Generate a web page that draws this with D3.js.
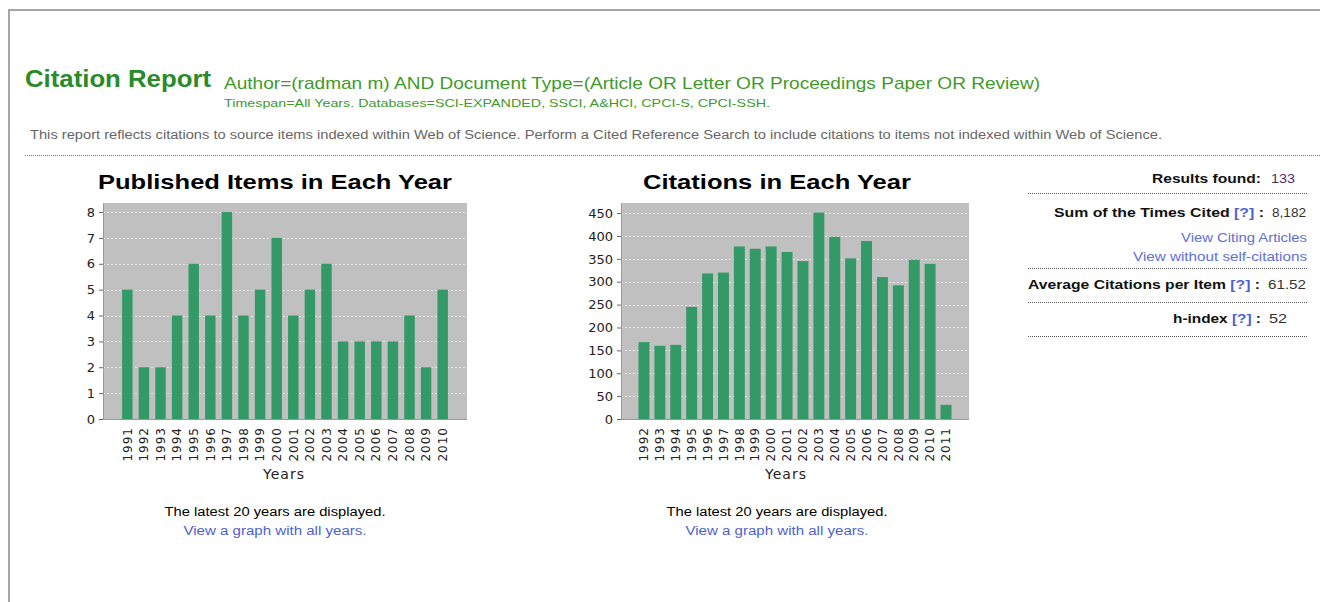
<!DOCTYPE html>
<html>
<head>
<meta charset="utf-8">
<script src="https://cdn.jsdelivr.net/npm/d3@7"></script>
<style>
  body { margin: 0; background: #fff; }
  svg { display: block; font-family: "Liberation Sans", Arial, sans-serif; }
  .tick text { font-family: "DejaVu Sans", sans-serif; }
</style>
</head>
<body>
<svg id="page" width="1320" height="602"></svg>
<script>
// data
const pubYears = ["1991","1992","1993","1994","1995","1996","1997","1998","1999","2000",
                  "2001","2002","2003","2004","2005","2006","2007","2008","2009","2010"];
const pubCounts = [5,2,2,4,6,4,8,4,5,7,4,5,6,3,3,3,3,4,2,5];
const pubTicks = [0,1,2,3,4,5,6,7,8];

const citeYears = ["1992","1993","1994","1995","1996","1997","1998","1999","2000","2001",
                   "2002","2003","2004","2005","2006","2007","2008","2009","2010","2011"];
const citeCounts = [168,160,162,245,318,320,377,372,377,365,345,451,398,351,389,310,292,348,339,31];
const citeTicks = [0,50,100,150,200,250,300,350,400,450];

const statLabels = ["Results found:", "Sum of the Times Cited", "Average Citations per Item", "h-index"];
const statValues = ["133", "8,182", "61.52", "52"];

const svg = d3.select("#page");

// the source text is drawn a bit wider than Liberation Sans, so stretch to width
function fit(sel, w) {
  return sel.attr("textLength", w).attr("lengthAdjust", "spacingAndGlyphs");
}

// page frame
svg.append("path")
  .attr("d", "M9,602 V10 H1320")
  .attr("fill", "none")
  .attr("stroke", "#a6a6a6")
  .attr("stroke-width", 2);

// header
fit(svg.append("text")
  .attr("x", 25).attr("y", 87)
  .attr("font-size", "23px").attr("font-weight", "bold")
  .attr("fill", "#2a8a2a")
  .text("Citation Report"), 186);

fit(svg.append("text")
  .attr("x", 224).attr("y", 89)
  .attr("font-size", "17px")
  .attr("fill", "#3f9a2a")
  .text("Author=(radman m) AND Document Type=(Article OR Letter OR Proceedings Paper OR Review)"), 816);

fit(svg.append("text")
  .attr("x", 224).attr("y", 107)
  .attr("font-size", "11.5px")
  .attr("fill", "#3f9a2a")
  .text("Timespan=All Years. Databases=SCI-EXPANDED, SSCI, A&HCI, CPCI-S, CPCI-SSH."), 546);

fit(svg.append("text")
  .attr("x", 30).attr("y", 139)
  .attr("font-size", "12px")
  .attr("fill", "#666")
  .text("This report reflects citations to source items indexed within Web of Science. Perform a Cited Reference Search to include citations to items not indexed within Web of Science."), 1132);

svg.append("line")
  .attr("x1", 25).attr("x2", 1320).attr("y1", 155.5).attr("y2", 155.5)
  .attr("stroke", "#777").attr("stroke-dasharray", "1,1");

// bar chart builder
function drawChart(cfg) {
  const x = d3.scaleBand()
    .domain(cfg.years)
    .range([cfg.left, cfg.right])
    .paddingInner(cfg.pi)
    .paddingOuter(cfg.po);

  const y = d3.scaleLinear()
    .domain([0, cfg.max])
    .range([419, 203]);

  const g = svg.append("g");

  fit(g.append("text")
    .attr("x", cfg.titleX).attr("y", 189)
    .attr("text-anchor", "middle")
    .attr("font-size", "21px").attr("font-weight", "bold")
    .attr("fill", "#000")
    .text(cfg.title), cfg.titleW);

  g.append("rect")
    .attr("x", cfg.left).attr("y", 203)
    .attr("width", cfg.right - cfg.left).attr("height", 216)
    .attr("fill", "#c0c0c0");

  // dashed white grid
  g.selectAll(".grid")
    .data(cfg.ticks.filter(t => t > 0))
    .join("line")
      .attr("x1", cfg.left).attr("x2", cfg.right)
      .attr("y1", d => Math.round(y(d)) + 0.5).attr("y2", d => Math.round(y(d)) + 0.5)
      .attr("stroke", "#e4e4e4").attr("stroke-dasharray", "2,2");

  g.selectAll(".bar")
    .data(cfg.counts)
    .join("rect")
      .attr("class", "bar")
      .attr("x", (d, i) => x(cfg.years[i]))
      .attr("y", d => y(d))
      .attr("width", x.bandwidth())
      .attr("height", d => y(0) - y(d))
      .attr("fill", "#339966");

  const yAxis = g.append("g")
    .attr("transform", `translate(${cfg.left},0)`)
    .call(d3.axisLeft(y).tickValues(cfg.ticks).tickSize(4).tickSizeOuter(0).tickPadding(4));
  yAxis.select(".domain").attr("stroke", "#999");
  yAxis.selectAll(".tick line").attr("stroke", "#666");
  yAxis.selectAll(".tick text").attr("font-size", "13px").attr("fill", "#222");

  g.append("line")
    .attr("x1", cfg.left).attr("x2", cfg.right).attr("y1", 419.5).attr("y2", 419.5)
    .attr("stroke", "#999");

  const xAxis = g.append("g")
    .attr("transform", "translate(0,419)")
    .call(d3.axisBottom(x).tickSize(0).tickPadding(0));
  xAxis.select(".domain").remove();
  xAxis.selectAll(".tick text")
    .attr("transform", "rotate(-90)")
    .attr("text-anchor", "end")
    .attr("x", -8).attr("y", 0).attr("dy", "0.35em")
    .attr("font-size", "12px").attr("letter-spacing", "1px")
    .attr("fill", "#222");

  g.append("text")
    .attr("x", cfg.titleX + 9).attr("y", 479)
    .attr("text-anchor", "middle")
    .attr("font-family", "DejaVu Sans, sans-serif")
    .attr("font-size", "14px").attr("letter-spacing", "1px")
    .attr("fill", "#222")
    .text("Years");

  fit(g.append("text")
    .attr("x", cfg.titleX).attr("y", 516)
    .attr("text-anchor", "middle")
    .attr("font-size", "12px").attr("fill", "#000")
    .text("The latest 20 years are displayed."), 221);

  fit(g.append("text")
    .attr("x", cfg.titleX).attr("y", 535)
    .attr("text-anchor", "middle")
    .attr("font-size", "12px").attr("fill", "#4f5fd0")
    .text("View a graph with all years."), 183);
}

drawChart({
  title: "Published Items in Each Year", titleX: 275, titleW: 354,
  years: pubYears, counts: pubCounts, ticks: pubTicks,
  left: 103, right: 467, pi: 0.37, po: 1.15, max: 8.35
});

drawChart({
  title: "Citations in Each Year", titleX: 777, titleW: 268,
  years: citeYears, counts: citeCounts, ticks: citeTicks,
  left: 621, right: 969, pi: 0.31, po: 1.1, max: 472
});

// summary panel
const rowY = [183, 217, 289, 323];
const labelEnd = [1261, 1264, 1260, 1261];
const labelW = [109, 210, 232, 88];
const valueX = [1271, 1272, 1268, 1269];
const valueW = [24, 34, 38, 18];
const stats = svg.append("g").attr("font-size", "13px");

statLabels.forEach((label, i) => {
  const t = stats.append("text")
    .attr("x", labelEnd[i])
    .attr("y", rowY[i])
    .attr("text-anchor", "end")
    .attr("font-weight", "bold")
    .attr("fill", "#111");
  t.append("tspan").text(label);
  if (i > 0) {
    t.append("tspan").attr("fill", "#4f5fd0").text(" [?]");
    t.append("tspan").text(" :");
  }
  fit(t, labelW[i]);
  fit(stats.append("text")
    .attr("x", valueX[i])
    .attr("y", rowY[i])
    .attr("fill", i === 0 ? "#5a2a5a" : "#333")
    .text(statValues[i]), valueW[i]);
});

fit(stats.append("text")
  .attr("x", 1307).attr("y", 242).attr("text-anchor", "end")
  .attr("fill", "#5f6fd8").text("View Citing Articles"), 126);
fit(stats.append("text")
  .attr("x", 1307).attr("y", 261).attr("text-anchor", "end")
  .attr("fill", "#5f6fd8").text("View without self-citations"), 174);

stats.selectAll(".sep")
  .data([193, 268, 302, 336])
  .join("line")
    .attr("x1", 1028).attr("x2", 1307)
    .attr("y1", d => d + 0.5).attr("y2", d => d + 0.5)
    .attr("stroke", "#555").attr("stroke-dasharray", "1,1");
</script>
</body>
</html>
